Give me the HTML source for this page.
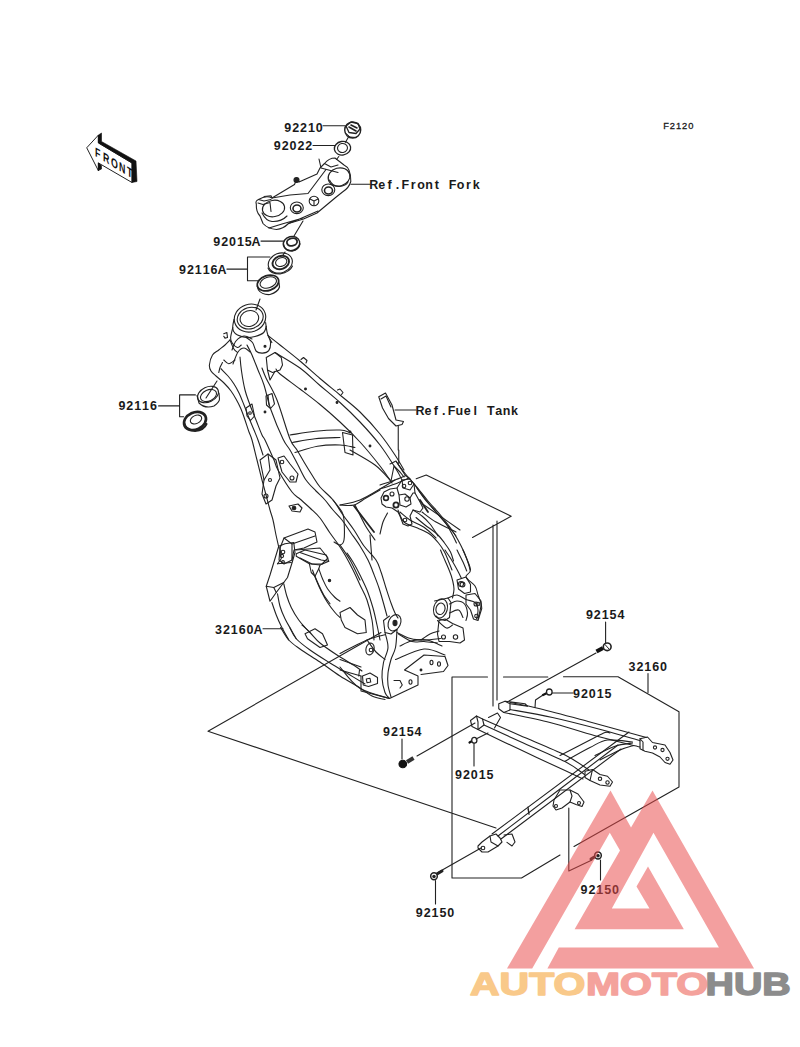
<!DOCTYPE html>
<html><head><meta charset="utf-8">
<style>
html,body{margin:0;padding:0;background:#fff;width:800px;height:1047px;overflow:hidden}
svg{position:absolute;left:0;top:0}
.t{font-family:"Liberation Mono",monospace;font-size:13px;font-weight:bold;fill:#1a1a1a;letter-spacing:0.25px}
.s{fill:none;stroke:#222;stroke-width:1.1;stroke-linecap:round;stroke-linejoin:round}
</style></head><body>
<svg width="800" height="1047" viewBox="0 0 800 1047">
<g id="top" class="s">
<ellipse cx="352.7" cy="130" rx="8" ry="8" style="stroke-width:1.4"/>
<path d="M346 126L351 122L358 123.5L360 129L356 133.5L349 132.5Z" style="stroke-width:1.3"/>
<path d="M349 127L356 131M351 125L357 128" style="stroke-width:1.6"/>
<path d="M345.5 133L350 137L356 137.5" style="stroke-width:1"/>
<ellipse cx="342.5" cy="148.2" rx="8.2" ry="6.8" transform="rotate(-10 342.5 148.2)" style="stroke-width:1.3"/>
<ellipse cx="342.5" cy="148" rx="5" ry="4.5" transform="rotate(-10 342.5 148)"/>
<path d="M348.5 137L345.5 142.3M338.8 156.5L336.5 159.5" />
<path d="M256.3 204Q256 212 260 216L263 223.5Q268 229 276.5 229.5Q283 229 288.5 223.5L303.5 219L317 213L326 205.5L335 198L342.5 192Q349 188 350.8 181.5Q351 168 344 165L335 158Q329 158 324.5 163.5L320 168L317 174L299 182Q297 177 294.5 184.5L272 198Q266 195 258.5 199.5Q255 201 256.3 204Z" />
<path d="M264 196.5L271 195.8L272 198M258.5 199.5L264 201L271 199.5M258 203L263 204.5L270 202.5L271 211.5M262 213Q266 221 272 221.5Q281 222 287 216" />
<path d="M272 198L290 195L308 193.5L326 169.5M319 159L321 168L338 172.5M324.5 163.5L331 167L338 165" />
<path d="M288.5 223.5L296 220.5L318 211M269 228L282 224L303 218" />
<ellipse cx="273.5" cy="208.5" rx="11.2" ry="8.2" transform="rotate(-10 273.5 208.5)" />
<ellipse cx="296.8" cy="207.8" rx="6.5" ry="5.8" />
<ellipse cx="297" cy="208.5" rx="4" ry="3.5" style="stroke-width:1.6" />
<ellipse cx="328.3" cy="189.8" rx="6.5" ry="5.8" />
<ellipse cx="328.5" cy="190.5" rx="4" ry="3.5" style="stroke-width:1.6" />
<circle cx="314" cy="201" r="4.8" />
<path d="M310 199L314 201L318 199M314 201L314 205.5" />
<ellipse cx="339" cy="177" rx="11" ry="9" transform="rotate(-15 339 177)" />
<path d="M329.5 180Q332 186 339 186.5Q346 186 348 182" />
<circle cx="296.5" cy="180" r="2.5" style="fill:#222" />
<path d="M303 221L294 236" />
<ellipse cx="291.5" cy="243.5" rx="8.3" ry="7" transform="rotate(-15 291.5 243.5)" style="stroke-width:1.4"/>
<ellipse cx="292" cy="242" rx="5.2" ry="3.8" transform="rotate(-15 292 242)" style="stroke-width:1.8"/>
<path d="M283.5 244.5Q285 251 292 251Q299 250 300 244" style="stroke-width:1.3"/>
<path d="M285 252L283 255" />
<ellipse cx="280.3" cy="263" rx="12.3" ry="9.8" transform="rotate(-20 280.3 263)" />
<ellipse cx="280.8" cy="262.5" rx="8.5" ry="6.5" transform="rotate(-20 280.8 262.5)" style="stroke-width:1.9"/>
<ellipse cx="281.2" cy="262" rx="5.8" ry="4.3" transform="rotate(-20 281.2 262)" />
<path d="M268 268Q270 274 280 274Q290 272 292.5 266" />
<ellipse cx="268" cy="283" rx="11" ry="7.5" transform="rotate(-18 268 283)" style="stroke-width:1.7"/>
<ellipse cx="268.3" cy="282.5" rx="8.5" ry="5.3" transform="rotate(-18 268.3 282.5)"/>
<path d="M257.2 286L258.5 290Q262 295 270 294.5Q278 292 279.5 287L279 283" style="stroke-width:1.2"/>
<path d="M260 299L256 310" />
</g>
<g id="longlines" class="s">
<path d="M208 731.2L381 632.5M208 731.2L496 828M452 677V878H521.5L560 855M452 677H487.5M503.5 677H547.8M563.5 676.8H618L679 711.8V787L574 846.5M493 525V706M497 521V700M416.2 478.8L426.2 475L511.2 516.2L472.5 537.5M568.8 808V871L592 860" />
</g>
<g id="labels" style="font-family:'Liberation Sans',sans-serif;font-weight:bold;font-size:12.5px;fill:#1a1a1a" text-anchor="middle">
<text x="287.75 295.62 303.50 311.38 319.25" y="131.70">92210</text>
<text x="277.25 285.12 293.00 300.88 308.75" y="150.45">92022</text>
<text x="373.85 381.73 389.60 397.48 405.35 413.23 421.10 428.98 436.85 444.73 452.60 460.48 468.35 476.23" y="189.00">Ref.Front Fork</text>
<text x="216.75 224.62 232.50 240.38 248.25 256.12" y="245.80">92015A</text>
<text x="182.60 190.47 198.35 206.22 214.10 221.97" y="274.35">92116A</text>
<text x="121.90 129.78 137.65 145.53 153.40" y="410.45">92116</text>
<text x="420.00 427.88 435.75 443.62 451.50 459.38 467.25 475.12 483.00 490.88 498.75 506.62 514.50" y="415.30">Ref.Fuel Tank</text>
<text x="218.60 226.47 234.35 242.22 250.10 257.98" y="634.45">32160A</text>
<text x="589.40 597.27 605.15 613.02 620.90" y="619.10">92154</text>
<text x="632.00 639.88 647.75 655.62 663.50" y="670.70">32160</text>
<text x="576.60 584.48 592.35 600.23 608.10" y="698.10">92015</text>
<text x="386.60 394.48 402.35 410.23 418.10" y="736.10">92154</text>
<text x="458.60 466.48 474.35 482.23 490.10" y="778.70">92015</text>
<text x="419.30 427.18 435.05 442.93 450.80" y="917.20">92150</text>
<text x="584.00 591.88 599.75 607.62 615.50" y="894.45">92150</text>
<text x="663.2" y="128.6" style="font-size:9.3px;font-weight:normal;stroke:#1a1a1a;stroke-width:0.3" text-anchor="start" letter-spacing="0.95">F2120</text>
</g>

<g id="leaders" class="s">
<path d="M323 125.8H345M313 145.5H335M261 241.1H284M226.9 269.1H247.5M247.5 257V280.7M247.5 257H270M247.5 280.7H259M158.6 405.9H179.6M179.6 394.9V416.8M179.6 394.9H195.4M179.6 416.8H183.6M395 410H416M351 184.3H370M263 628.8H283M605.6 622V643M648 673.6V692.4M550 693H573M402 739V759M474 740V766M435.5 880.5V904M600.5 860V880"/>
</g>
<g id="frame" class="s">
<ellipse cx="250" cy="318.1" rx="15.9" ry="13.8" transform="rotate(-18 250 318.1)"/>
<ellipse cx="250.2" cy="318.1" rx="13.2" ry="10.6" transform="rotate(-18 250.2 318.1)"/>
<ellipse cx="249.4" cy="318.5" rx="9.4" ry="7.8" transform="rotate(-18 249.4 318.5)"/>
<path d="M234 319.38C233.8 320.5 232.8 324.3 232.75 326.25C232.7 328.2 232.7 329.8 233.5 331.25C234.3 332.7 235.4 334.0 237.5 335C239.6 336.0 243.3 337.2 246.25 337.5C249.2 337.8 252.1 337.3 255 336.5C257.9 335.7 261.9 334.2 263.75 332.5C265.6 330.8 265.8 327.3 266.25 326.25"/>
<path d="M265.62 322.5C265.8 324.0 266.5 329.1 266.88 331.25C267.3 333.4 267.3 333.7 268.12 335.62C269.0 337.5 271.3 341.4 271.88 342.5"/>
<path d="M246.25 337.5C247.3 338.3 250.8 340.2 252.5 342.5C254.2 344.8 254.6 349.5 256.25 351.25C257.9 353.0 260.4 353.2 262.5 353.12C264.6 353.0 267.4 352.4 268.75 350.62C270.1 348.9 270.7 345.0 270.62 342.5C270.5 340.0 268.5 336.8 268.12 335.62"/>
<circle cx="265" cy="346.2" r="1" style="fill:#222"/>
<path d="M232.75 327.5C232.4 329.2 230.8 335.0 230.62 337.5C230.5 340.0 230.7 340.8 231.88 342.5C233.0 344.2 235.9 347.1 237.5 347.5C239.1 347.9 240.6 345.4 241.25 345"/>
<path d="M223.75 333.75L226.88 332.5L227.5 337.5L225 338.12L223.75 336.25"/>
<path d="M230 340C230.6 341.5 232.5 346.7 233.75 348.75C235.0 350.8 236.9 351.9 237.5 352.5"/>
<path d="M223.75 360C224.6 360.6 226.9 363.8 228.75 363.75C230.6 363.8 234.0 360.6 235 360"/>
<path d="M222.5 362.5C222.1 363.3 220.6 365.8 220 367.5C219.4 369.2 219.0 371.7 218.75 372.5"/>
<path d="M266.25 357.5L275 352.5L281.25 357.5L282.5 365L280 370L272.5 372.5L267.5 370L266.25 357.5"/>
<path d="M267.5 370L270 380L275 371.25"/>
<path d="M247 345C247.8 346.7 250.2 350.8 252 355C253.8 359.2 256.0 365.0 258 370C260.0 375.0 261.8 378.3 264 385C266.2 391.7 267.8 401.0 271 410C274.2 419.0 279.8 432.3 283 439C286.2 445.7 287.5 445.7 290 450C292.5 454.3 295.3 460.0 298 465C300.7 470.0 303.0 475.7 306 480C309.0 484.3 312.8 487.7 316 491C319.2 494.3 322.2 496.8 325 500C327.8 503.2 330.2 506.7 333 510C335.8 513.3 339.0 516.2 342 520C345.0 523.8 348.0 528.7 351 533C354.0 537.3 357.2 541.5 360 546C362.8 550.5 365.8 555.7 368 560C370.2 564.3 371.2 567.3 373 572C374.8 576.7 377.2 582.5 379 588C380.8 593.5 382.7 600.3 384 605C385.3 609.7 386.5 614.2 387 616"/>
<path d="M262 368C262.7 369.7 263.5 372.7 266 378C268.5 383.3 273.0 389.8 277 400C281.0 410.2 286.7 430.7 290 439C293.3 447.3 294.7 446.2 297 450C299.3 453.8 301.5 457.8 304 462C306.5 466.2 309.3 470.8 312 475C314.7 479.2 316.5 482.8 320 487C323.5 491.2 329.2 495.3 333 500C336.8 504.7 339.5 510.0 343 515C346.5 520.0 350.5 524.8 354 530C357.5 535.2 360.3 541.0 364 546C367.7 551.0 373.2 555.7 376 560C378.8 564.3 379.3 567.3 381 572C382.7 576.7 384.3 582.8 386 588C387.7 593.2 389.5 598.8 391 603C392.5 607.2 393.8 610.5 395 613C396.2 615.5 397.5 617.2 398 618"/>
<path d="M240 357C240.2 359.3 240.7 365.5 241.5 371C242.3 376.5 243.6 384.3 245 390C246.4 395.7 248.2 400.0 250 405C251.8 410.0 254.0 415.0 256 420C258.0 425.0 260.5 431.7 262 435C263.5 438.3 263.0 435.8 265 440C267.0 444.2 271.8 455.0 274 460C276.2 465.0 275.0 464.7 278 470C281.0 475.3 288.3 487.2 292 492C295.7 496.8 297.0 496.3 300 499C303.0 501.7 306.7 504.8 310 508C313.3 511.2 316.7 513.8 320 518C323.3 522.2 327.0 528.7 330 533C333.0 537.3 335.5 540.3 338 544C340.5 547.7 342.5 550.7 345 555C347.5 559.3 350.5 565.0 353 570C355.5 575.0 357.7 580.0 360 585C362.3 590.0 365.0 594.2 367 600C369.0 605.8 370.8 613.3 372 620C373.2 626.7 373.7 636.7 374 640"/>
<path d="M230 340C229.2 340.8 226.9 343.3 225 345C223.1 346.7 220.8 348.3 218.75 350C216.7 351.7 214.1 352.5 212.5 355C210.9 357.5 209.7 362.3 209.4 365C209.2 367.7 209.9 369.2 211 371C212.1 372.8 213.8 374.0 216 376C218.2 378.0 221.5 380.5 224 383C226.5 385.5 229.0 388.3 231 391C233.0 393.7 234.3 396.0 236 399C237.7 402.0 239.5 405.5 241 409C242.5 412.5 243.7 416.2 245 420C246.3 423.8 247.8 428.7 249 432C250.2 435.3 250.7 435.3 252 440C253.3 444.7 255.3 453.3 257 460C258.7 466.7 260.5 474.2 262 480C263.5 485.8 264.7 490.0 266 495C267.3 500.0 268.8 505.8 270 510C271.2 514.2 272.0 515.8 273 520C274.0 524.2 275.0 530.3 276 535C277.0 539.7 278.5 545.8 279 548"/>
<path d="M221 368.75C222.2 370.0 225.8 373.5 228 376C230.2 378.5 232.2 381.2 234 384C235.8 386.8 237.3 389.5 239 393C240.7 396.5 242.3 400.8 244 405C245.7 409.2 247.3 413.8 249 418C250.7 422.2 252.5 426.3 254 430C255.5 433.7 256.5 435.8 258 440C259.5 444.2 262.2 452.5 263 455"/>
<path d="M333 500C334.5 502.0 340.2 508.7 342 512C343.8 515.3 343.7 515.3 344 520C344.3 524.7 344.7 535.8 344 540C343.3 544.2 341.7 544.7 340 545C338.3 545.3 335.0 542.5 334 542"/>
<path d="M340 505C342.3 505.0 349.7 506.2 354 505C358.3 503.8 361.7 500.5 366 498C370.3 495.5 377.7 491.3 380 490"/>
<path d="M354 506L374 532" style="stroke-width:1.8"/>
<path d="M370 535L372 560"/>
<path d="M347 553C348.0 554.5 350.8 558.3 353 562C355.2 565.7 357.7 570.3 360 575C362.3 579.7 364.8 584.5 367 590C369.2 595.5 371.3 602.2 373 608C374.7 613.8 375.8 619.7 377 625C378.2 630.3 379.5 637.5 380 640"/>
<path d="M268 335.6C270.0 337.2 274.7 340.8 280 345C285.3 349.2 293.3 355.4 300 361C306.7 366.6 313.3 372.8 320 378.5C326.7 384.2 333.3 389.4 340 395C346.7 400.6 353.3 405.5 360 412C366.7 418.5 374.2 426.8 380 434C385.8 441.2 391.0 449.0 395 455C399.0 461.0 402.5 467.5 404 470"/>
<path d="M275 352.5C279.2 355.1 292.5 362.5 300 368C307.5 373.5 313.3 379.8 320 385.5C326.7 391.2 333.3 396.4 340 402.5C346.7 408.6 353.3 414.9 360 422C366.7 429.1 374.0 437.2 380 445C386.0 452.8 392.3 463.2 396 469C399.7 474.8 401.0 478.2 402 480"/>
<path d="M276 369C276.7 369.8 276.0 370.7 280 374C284.0 377.3 293.3 383.9 300 389C306.7 394.1 313.3 399.0 320 404.5C326.7 410.0 333.3 415.8 340 422C346.7 428.2 353.3 434.7 360 442C366.7 449.3 374.7 459.2 380 466C385.3 472.8 390.0 480.2 392 483"/>
<path d="M301 359.5L303.5 357.5L307 360.5L306 363"/>
<path d="M337.5 390L340 389L343 392.5L341.5 394.5"/>
<circle cx="305.5" cy="389" r="0.9" style="fill:#222"/><circle cx="337" cy="402.5" r="0.9" style="fill:#222"/><circle cx="350" cy="432" r="0.9" style="fill:#222"/><circle cx="370" cy="446" r="0.9" style="fill:#222"/>
<path d="M290 435C294.2 434.4 306.7 432.1 315 431.25C323.3 430.4 334.2 429.8 340 430C345.8 430.2 348.3 432.1 350 432.5"/>
<path d="M292.5 442.5C296.2 441.9 307.1 439.6 315 438.75C322.9 437.9 335.8 437.7 340 437.5"/>
<path d="M295 452.5C298.8 451.5 310.0 447.5 317.5 446.25C325.0 445.0 333.8 444.8 340 445C346.2 445.2 352.5 447.1 355 447.5"/>
<path d="M342.5 432.5L352.5 435L353 455L345 452.5L342.5 432.5"/>
<path d="M340 505C343.3 504.2 352.9 502.9 360 500C367.1 497.1 376.7 490.8 382.5 487.5C388.3 484.2 392.9 481.2 395 480"/>
<path d="M350 450C354.2 452.5 368.3 460.0 375 465C381.7 470.0 387.5 477.5 390 480"/>
<path d="M340 545C341.7 547.5 346.7 554.2 350 560C353.3 565.8 358.3 576.7 360 580"/>
<path d="M355 505C356.7 508.3 361.7 519.2 365 525C368.3 530.8 373.3 537.5 375 540"/>
<path d="M396.5 462C398.0 464.0 402.2 470.0 405.5 474C408.8 478.0 412.2 481.5 416 486C419.8 490.5 424.0 496.2 428 501C432.0 505.8 436.2 510.0 440 514.5C443.8 519.0 447.5 523.8 450.5 528C453.5 532.2 455.8 536.0 458 540C460.2 544.0 462.2 548.0 464 552C465.8 556.0 467.5 561.0 468.5 564C469.5 567.0 469.8 569.0 470 570"/>
<path d="M414.5 484.5C416.2 487.0 421.2 494.8 425 499.5C428.8 504.2 433.5 509.0 437 513C440.5 517.0 443.5 520.0 446 523.5C448.5 527.0 450.2 530.8 452 534C453.8 537.2 455.8 541.5 456.5 543"/>
<path d="M398 510C399.0 512.0 400.8 519.0 404 522C407.2 525.0 413.2 526.0 417.5 528C421.8 530.0 426.0 531.5 429.5 534C433.0 536.5 436.0 540.0 438.5 543C441.0 546.0 442.8 548.8 444.5 552C446.2 555.2 447.8 559.5 449 562.5C450.2 565.5 451.5 568.8 452 570"/>
<path d="M387.5 513C386.8 514.5 384.2 518.5 383 522C381.8 525.5 380.5 532.0 380 534"/>
<path d="M398.75 450L398.75 463.5"/>
<path d="M416 517.5C417.5 518.8 421.5 522.2 425 525C428.5 527.8 433.8 531.0 437 534C440.2 537.0 442.2 540.0 444.5 543C446.8 546.0 449.0 549.0 450.5 552C452.0 555.0 453.0 559.5 453.5 561"/>
<path d="M463 550C464.2 553.2 470.0 565.0 470.5 569.5C471.0 574.0 465.2 574.2 466 577C466.8 579.8 473.0 583.0 475 586C477.0 589.0 477.0 592.0 478 595C479.0 598.0 480.8 601.0 481 604C481.2 607.0 480.0 610.5 479.5 613C479.0 615.5 478.2 618.0 478 619"/>
<path d="M440.5 550C441.2 551.8 443.5 557.0 445 560.5C446.5 564.0 448.2 567.8 449.5 571C450.8 574.2 451.8 577.0 452.5 580C453.2 583.0 454.0 586.0 454 589C454.0 592.0 452.8 596.5 452.5 598"/>
<ellipse cx="440.5" cy="608.5" rx="6.8" ry="9.8" transform="rotate(15 440.5 608.5)"/><ellipse cx="440.5" cy="608.8" rx="4.5" ry="5.8" transform="rotate(15 440.5 608.8)"/>
<path d="M434.5 601L448 598L451 602.5L449.5 617.5L445 620.5L439 619L436 616"/>
<path d="M439 620.5L445 619L452.5 623.5L463 628L464.5 640L460 643L449.5 641.5L439 641.5L437.5 634L439 620.5"/>
<circle cx="443.5" cy="637" r="2"/><circle cx="455.5" cy="637" r="2.2"/><circle cx="476" cy="604" r="2"/><circle cx="461" cy="584" r="2.5"/>
<path d="M448 598C449.5 597.5 454.0 594.8 457 595C460.0 595.2 463.0 598.2 466 599.5C469.0 600.8 473.0 600.8 475 602.5C477.0 604.2 477.8 607.2 478 610C478.2 612.8 476.8 617.5 476.5 619"/>
<path d="M340 612.5L350 607.5L357.5 615L365 620L366.25 632.5L357.5 633.75L345 627.5L341.25 620L340 612.5"/>
<path d="M305 633.75L315 628.75L322.5 633.75L327.5 645L320 647.5L307.5 638.75L305 633.75"/>
<path d="M87 147.5L98.5 135L98.5 143L132 163L132 182.5L98.5 163L98.5 170.5Z" style="stroke-width:1"/>
<path d="M98.5 135L101.5 133L101.5 141.5L136 161L137 181.5L132 182.5L132 163L98.5 143Z M98.5 163L101.5 165.5L101.5 169L98.5 170.5Z" style="fill:#111;stroke:#111;stroke-width:0.6"/>
<text transform="translate(95,156) skewY(31) scale(0.68,1)" x="0 11.8 23.6 35.4 47.2" style="font-family:Liberation Sans,sans-serif;font-size:13px;font-weight:bold;fill:#111;stroke:none">FRONT</text>
<ellipse cx="208" cy="394.5" rx="11" ry="7.5" transform="rotate(-25 208 394.5)"/>
<ellipse cx="208.5" cy="395.5" rx="8.5" ry="5.5" transform="rotate(-25 208.5 395.5)"/>
<path d="M197 395.5L199 403Q205 409 214 406Q219.5 402 219.5 399L219 393"/>
<path d="M206 398L217 381"/>
<ellipse cx="195" cy="421" rx="11.5" ry="8.5" transform="rotate(-25 195 421)" style="stroke-width:2.6;stroke:#222"/>
<ellipse cx="196" cy="419.5" rx="6" ry="4" transform="rotate(-25 196 419.5)"/>
<path d="M184.5 424Q186 430 195 431Q204 430 206.5 424" style="stroke-width:2"/>
<path d="M378.75 396.75L385.5 393L392 405L396 420L403.5 421.5L402 424.5L396 426L388.5 418.5L382.5 408L378.75 396.75"/>
<path d="M381 399L386 396L391 407"/>
<path d="M398.25 426L398.25 450"/>
<path d="M380 489C382.5 488.2 390.2 485.8 395 484C399.8 482.2 406.7 479.0 409 478"/>
<path d="M380 485C382.0 484.3 387.8 482.5 392 481C396.2 479.5 402.8 476.8 405 476"/>
<path d="M417 488C418.5 490.0 422.8 496.0 426 500C429.2 504.0 432.3 507.7 436 512C439.7 516.3 444.7 522.0 448 526C451.3 530.0 454.7 534.3 456 536"/>
<path d="M390 464L396 461L405 475L410 479"/>
<path d="M391 481L394 466L400 472L404 477"/>
<path d="M384 492L390 489L397 488L402 480L410 479L414 484L415 493L420 502L423 508L420 512L413 510L410 516L412 524L408 526L403 524L400 516L398 512L392 508L386 507L382 504L381 498L384 492"/>
<path d="M397 488L399 495L405 494L410 498L411 504L406 507L400 505L399 495"/>
<path d="M402 480L403 488L410 490L414 484"/>
<path d="M410 498L413 493L415 493"/>
<circle cx="407" cy="499" r="2.2"/><circle cx="392" cy="494" r="2"/><circle cx="386" cy="498" r="2.4" style="stroke-width:1.6"/><circle cx="404" cy="486" r="1.8"/><circle cx="410" cy="483" r="1.8"/><circle cx="396" cy="505" r="2.6" style="stroke-width:1.8"/><circle cx="405" cy="520" r="1.8"/>
<path d="M400 512C401.7 513.3 405.8 517.3 410 520C414.2 522.7 420.7 525.0 425 528C429.3 531.0 434.2 536.3 436 538"/>
<path d="M413 510C414.5 511.0 419.2 513.7 422 516C424.8 518.3 427.3 520.7 430 524C432.7 527.3 436.7 534.0 438 536"/>
<path d="M424 505C426.7 506.8 434.0 511.8 440 516C446.0 520.2 456.7 527.7 460 530"/>
<path d="M422 512C424.3 513.7 430.3 518.7 436 522C441.7 525.3 452.7 530.3 456 532"/>
<path d="M420 500L428 512" style="stroke-width:1.8"/>
<path d="M445 550C446.0 551.5 449.0 555.8 451 559C453.0 562.2 455.2 566.2 457 569.5C458.8 572.8 460.8 577.0 461.5 578.5"/>
<path d="M457 550C458.0 552.0 461.4 558.5 463 562C464.6 565.5 466.1 569.5 466.75 571"/>
<path d="M457 580L466 577L470.5 584.5L470.5 592L464.5 593.5L458.5 589L457 580"/>
<path d="M466 595L475 593.5L481 601L481.75 608.5L478 620.5L473.5 619L470.5 610L466 604L466 595"/>
<circle cx="478" cy="604" r="1.8"/><circle cx="476.5" cy="616" r="1.8"/><circle cx="462.5" cy="584.5" r="2.4"/>
<path d="M449.5 604C450.8 603.5 454.5 601.0 457 601C459.5 601.0 462.8 602.0 464.5 604C466.2 606.0 467.2 610.2 467.5 613C467.8 615.8 466.2 619.2 466 620.5"/>
<path d="M449.5 613C451.0 612.5 456.2 609.2 458.5 610C460.8 610.8 462.2 616.2 463 617.5"/>
<path d="M437.5 620.5C439.0 621.8 444.0 627.2 446.5 628C449.0 628.8 451.5 625.5 452.5 625"/>
<path d="M421 640C422.5 639.0 427.0 635.5 430 634C433.0 632.5 437.5 631.5 439 631"/>
<path d="M280 548L284 538L308 529L315 532L317 542L304 548L294 550L292 560L284 564L279 560L280 548"/>
<path d="M284 538L292 544L292 560"/>
<path d="M292 544L315 536"/>
<path d="M296 550L320 548L328 558L322 564L312 564L300 558"/>
<circle cx="283" cy="552" r="1.8"/>
<path d="M260 460L268 454L276 460L280 478L276 486L272 500L266 504L262 494L264 480L260 460"/>
<path d="M268 454L270 470L264 480"/>
<circle cx="266" cy="496" r="2"/><circle cx="270" cy="480" r="1.5"/>
<path d="M278 458L284 456L290 464L298 474L296 482L290 482L282 472L278 458"/>
<circle cx="282" cy="462" r="1.8"/><circle cx="292" cy="478" r="2"/>
<path d="M289 506L298 504L302 508L300 512L292 511L289 506"/>
<circle cx="294" cy="508" r="1.8" style="fill:#222"/>
<path d="M278.75 546.25L270 575L266.25 586.25L270 601.25L276.25 592.5L283.75 582.5L287.5 577.5L292.5 561.25L295 552.5L293.75 542.5L285 543.75L278.75 546.25"/>
<path d="M266.25 586.25L273.75 587.5L283.75 582.5"/>
<path d="M273.75 587.5L276.25 592.5"/>
<path d="M277.5 563.75L291.25 562.5"/>
<path d="M280 547.5L281.25 558.75L277.5 563.75"/>
<circle cx="282" cy="556" r="1.6"/><circle cx="283" cy="562" r="1.4"/>
<path d="M296.25 553.75L305 550L326.25 555L328.75 561.25L320 565L318.75 568.75L315 576.25L311.25 572.5L309.38 563.75L296.25 556.25L296.25 553.75"/>
<path d="M300 552.5L321.25 560L328.75 561.25"/>
<path d="M309.38 563.75L320 565"/>
<path d="M271.88 602.5C272.6 604.6 274.7 611.0 276.25 615C277.8 619.0 279.2 622.1 281.25 626.25C283.3 630.4 287.5 637.7 288.75 640"/>
<path d="M277.5 593.75C277.9 595.8 278.8 602.1 280 606.25C281.2 610.4 283.1 614.8 285 618.75C286.9 622.7 289.4 626.7 291.25 630C293.1 633.3 295.4 637.3 296.25 638.75"/>
<path d="M283.75 583.75C284.3 585.8 285.6 592.3 286.88 596.25C288.1 600.2 289.3 603.5 291.25 607.5C293.2 611.5 296.2 616.5 298.75 620C301.2 623.5 304.4 626.7 306.25 628.75C308.1 630.8 309.4 631.9 310 632.5"/>
<path d="M312.5 570C313.1 571.7 314.8 576.5 316.25 580C317.7 583.5 319.4 587.5 321.25 591.25C323.1 595.0 325.2 599.0 327.5 602.5C329.8 606.0 332.9 610.0 335 612.5C337.1 615.0 339.2 616.7 340 617.5"/>
<path d="M318.75 568.75C319.4 570.4 321.0 575.4 322.5 578.75C324.0 582.1 325.4 585.6 327.5 588.75C329.6 591.9 332.9 595.4 335 597.5C337.1 599.6 339.2 600.6 340 601.25"/>
<path d="M315 576.25C315.6 577.7 317.3 581.9 318.75 585C320.2 588.1 321.9 591.9 323.75 595C325.6 598.1 329.0 602.3 330 603.75"/>
<circle cx="329.5" cy="580.5" r="1.2" style="fill:#222"/>
<path d="M280.6 627.5C282.0 629.6 285.5 636.4 288.75 640C292.0 643.6 294.8 645.3 300 649C305.2 652.7 313.3 657.5 320 662C326.7 666.5 333.3 671.7 340 676C346.7 680.3 354.7 684.7 360 688C365.3 691.3 367.8 694.1 372 696C376.2 697.9 382.8 698.9 385 699.5"/>
<path d="M290 628C291.0 629.8 292.9 635.1 296.25 638.75C299.6 642.4 304.4 646.0 310 650C315.6 654.0 323.3 658.8 330 663C336.7 667.2 344.2 671.5 350 675C355.8 678.5 362.5 682.5 365 684"/>
<path d="M302 625C303.3 626.2 307.0 629.5 310 632.5C313.0 635.5 315.5 639.2 320 643C324.5 646.8 331.2 651.2 337 655C342.8 658.8 350.8 663.3 355 666C359.2 668.7 360.8 670.2 362 671"/>
<ellipse cx="394.5" cy="622.8" rx="6" ry="8.5" transform="rotate(25 394.5 622.8)"/><ellipse cx="395" cy="623" rx="2" ry="2.6" style="fill:#222"/>
<path d="M389.5 616L383.5 620.5L385 632.5L391 634L397 629.5"/>
<path d="M385 632.5C385.5 635.0 388.2 642.5 388 647.5C387.8 652.5 384.5 657.5 383.5 662.5C382.5 667.5 381.8 672.5 382 677.5C382.2 682.5 383.8 689.0 385 692.5C386.2 696.0 388.8 697.5 389.5 698.5"/>
<path d="M397 629.5C396.8 632.5 396.5 642.5 395.5 647.5C394.5 652.5 392.2 655.2 391 659.5C389.8 663.8 388.5 668.8 388 673C387.5 677.2 387.5 681.0 388 685C388.5 689.0 390.5 695.0 391 697"/>
<path d="M361 676L361 691L389.5 698.5L418 685L418 676L404.5 670L424 655L445 656.5L448 665.5L443.5 671.5L421 674.5"/>
<path d="M362.5 676L370 673L377.5 677.5L377.5 683.5L368.5 686.5L363.25 685L362.5 676"/>
<path d="M366.25 679L370 678.25L370.75 682L367 682.75L366.25 679"/>
<ellipse cx="410.5" cy="682" rx="1.5" ry="2.2"/><ellipse cx="431.5" cy="662.5" rx="1.5" ry="2.2"/><ellipse cx="439" cy="664" rx="1.5" ry="2.2"/><circle cx="421" cy="670" r="0.9" style="fill:#222"/>
<path d="M394 680.5L400 680.5L402.25 685L400 688"/>
<path d="M397 632.5C399.2 633.5 406.0 637.2 410.5 638.5C415.0 639.8 419.0 640.0 424 640C429.0 640.0 437.8 638.8 440.5 638.5"/>
<path d="M398.5 634C400.8 635.2 407.8 640.2 412 641.5C416.2 642.8 419.8 641.2 424 641.5C428.2 641.8 435.2 642.8 437.5 643"/>
<path d="M400 646C402.0 645.1 407.5 641.8 412 640.75C416.5 639.8 422.0 639.1 427 640C432.0 640.9 439.5 645.0 442 646"/>
<path d="M340 653.5C344.5 651.2 359.5 643.1 367 640C374.5 636.9 382.0 635.6 385 634.75"/>
<path d="M395.5 659.5C400.2 657.8 415.8 649.8 424 649C432.2 648.2 441.5 654.0 445 655"/>
<path d="M340 667C343.2 670.5 351.2 682.8 359.5 688C367.8 693.2 384.5 696.8 389.5 698.5"/>
<path d="M340 659.5L361 667"/>
<path d="M340 670L361 676"/>
<path d="M367 640C368.5 642.0 373.0 648.8 376 652C379.0 655.2 383.5 658.2 385 659.5"/>
<ellipse cx="370" cy="649" rx="4" ry="6" transform="rotate(15 370 649)"/><circle cx="371" cy="650" r="1.8"/>
<path d="M359.5 670L358.75 676"/>
<path d="M266 396L272 393.5L274.5 404L270.5 408.5L266.5 405L266 396"/>
<path d="M268 395L269 405"/>
<circle cx="265" cy="412" r="0.9" style="fill:#222"/>
<path d="M246 408L252 404L254.5 416L250.5 420.5L247 416L246 408"/>
<circle cx="250" cy="413" r="1.3"/>
<path d="M232 350C232.7 348.5 234.0 343.3 236 341C238.0 338.7 241.3 336.3 244 336C246.7 335.7 250.7 338.5 252 339"/>
<path d="M233 364C233.8 362.0 236.2 354.7 238 352C239.8 349.3 242.0 348.0 244 348C246.0 348.0 249.0 351.3 250 352"/>
<path d="M498.75 703.75L505 701.25L510 703.75L510 710L503.75 712.5L498.75 708.75L498.75 703.75"/>
<path d="M505 701.25L525 703.75L527.5 706.25L510 703.75"/>
<path d="M510 702.5C515.0 703.5 526.7 705.5 540 708.75C553.3 712.0 573.3 717.5 590 722C606.7 726.5 630.6 733.2 640 735.75C649.4 738.3 645.2 737.2 646.25 737.5"/>
<path d="M510 709.5C517.1 710.8 537.1 714.1 552.5 717.5C567.9 720.9 587.9 726.1 602.5 730C617.1 733.9 633.8 739.0 640 740.75"/>
<path d="M503.75 712.5C511.5 714.2 534.8 718.6 550 722.5C565.2 726.4 580.0 731.7 595 735.75C610.0 739.8 632.5 745.1 640 747"/>
<path d="M640 738.75L647.5 737L652.5 742.5L665 745L670 752.5L673 760L670 764.25L665 762.5L660 757L652.5 753L645 751.25L640 748.75L640 738.75"/>
<circle cx="655" cy="747.5" r="1.6"/><circle cx="662.5" cy="750" r="1.6"/><circle cx="667.5" cy="758.8" r="1.6"/>
<path d="M640 738.75L643 742L643 750"/>
<path d="M470.5 720.5L476.5 716L482.5 719L484 725L478 729.5L472 726.5L470.5 720.5"/>
<path d="M476.5 716L478 722L478 729.5"/>
<path d="M488.5 717.5L497.5 713L500.5 717.5L494.5 728"/>
<path d="M482.5 719C488.8 721.8 506.2 729.5 520 735.5C533.8 741.5 553.5 749.2 565 755C576.5 760.8 585.0 767.5 589 770"/>
<path d="M484 725C490.0 727.8 506.5 735.4 520 741.5C533.5 747.6 554.2 756.1 565 761.6C575.8 767.1 581.2 772.4 584.5 774.5"/>
<path d="M478 729.5C485.0 732.9 505.5 742.8 520 749.6C534.5 756.5 554.5 765.7 565 770.6C575.5 775.5 580.0 777.6 583 779"/>
<path d="M585 771.25L592.5 769.5L600 774.5L607.5 776.25L612.5 782L610 786.25L600 785L590 780.5L585 777.5L585 771.25"/>
<path d="M592.5 769.5L591.25 775L590 780.5"/>
<circle cx="600" cy="778.8" r="1.7"/><circle cx="607.5" cy="782.5" r="1.7"/>
<path d="M560 755.5C565.0 752.9 582.5 743.8 590 740C597.5 736.2 601.7 733.7 605 732.5C608.3 731.3 609.2 732.9 610 733"/>
<path d="M565 761.25C569.2 759.0 582.9 751.0 590 747.5C597.1 744.0 600.4 740.9 607.5 740C614.6 739.1 628.3 741.7 632.5 742"/>
<path d="M595 755.5C598.3 754.0 608.8 748.3 615 746.25C621.2 744.2 629.6 743.5 632.5 743"/>
<path d="M600 760C603.3 758.3 614.4 752.4 620 750C625.6 747.6 631.5 746.2 633.75 745.5"/>
<path d="M629 732L492 834"/>
<path d="M621 749L501 839"/>
<path d="M618 745L560 789L498 836"/>
<path d="M528 809L529 814.5"/>
<path d="M478 846L482 842L490 836L496 834L500 838L502 842L498 846L488 852L482 852L478 848L478 846"/>
<path d="M490 836L491 842L498 846"/>
<circle cx="483" cy="848" r="1.8"/>
<path d="M504 835L512 834L515 842L512 846L507 842.4"/>
<path d="M553 806L554 800L560 790L570 790L578 794L584 802L582 806.4L576 804.4L570 802L562 808L556 810L553 806"/>
<path d="M570 790L572 796L570 802"/>
<circle cx="556" cy="806" r="1.5"/><circle cx="579" cy="803" r="1.5"/>
<path d="M528 807L529 813"/>
<path d="M596 653L509 701"/>
<path d="M417 756L475 723"/>
<path d="M437 873L481 848"/>
<path d="M596.5 651.5L603 648" style="stroke-width:4.2;stroke:#111;stroke-linecap:butt"/><ellipse cx="607.2" cy="646.8" rx="3.9" ry="3.8" style="stroke-width:1.6;fill:#fff"/><path d="M605 644.5L609 649" style="stroke-width:1"/>
<path d="M407 762L413.5 758" style="stroke-width:4;stroke:#333;stroke-linecap:butt"/><ellipse cx="402.8" cy="764" rx="3.8" ry="3.8" style="fill:#111;stroke:#111"/>
<path d="M543 695L549 692" style="stroke-width:2.2;stroke:#111"/><ellipse cx="549.3" cy="692" rx="2.8" ry="3" style="stroke-width:1.3;fill:#fff"/>
<path d="M543 695L535.5 700L535 707.5"/>
<path d="M469.5 742.5L474 740" style="stroke-width:2.2;stroke:#111"/><ellipse cx="474.3" cy="740.2" rx="2.6" ry="2.9" style="stroke-width:1.3;fill:#fff"/>
<path d="M476 739L488 733"/>
<path d="M437 874L442 871" style="stroke-width:3;stroke:#222"/><ellipse cx="434" cy="876.2" rx="3.3" ry="3.5" style="stroke-width:1.5;fill:#fff"/><circle cx="434" cy="876.5" r="1.2" style="fill:#222"/>
<path d="M591 859L596 856" style="stroke-width:3;stroke:#222"/><ellipse cx="598" cy="855.5" rx="3.3" ry="3.5" style="stroke-width:1.5;fill:#fff"/><circle cx="598" cy="855.8" r="1.2" style="fill:#222"/>
</g>
<g id="wm" opacity="1">
<path fill="#e84a4a" fill-opacity="0.53" fill-rule="evenodd" d="M507 968.5L610.5 790.5L631 827.5L652.5 790.5L754 968.5Z M609.8 832.8L620 850.6L574.6 929.3L683.8 929.3L648 866.5L636.5 886.5L649.5 908.6L611.8 908.6L653.5 832.8L718.9 947.5L558.8 947.5L547.4 968.5L532.2 968.5Z"/>
</g>
<g id="wmtext" style="font-family:'Liberation Sans',sans-serif;font-weight:bold;font-size:32px" stroke-width="1.5" stroke-linejoin="round">
<text transform="translate(470,994.9) scale(1.28,1)" fill="#f9c98a" stroke="#f9c98a">AUTO</text>
<text transform="translate(586,994.9) scale(1.28,1)" fill="#f4a29c" stroke="#f4a29c">MOTO</text>
<text transform="translate(705.5,994.9) scale(1.23,1)" fill="#8c8c8c" stroke="#8c8c8c">HUB</text>
</g>
</svg>
</body></html>
